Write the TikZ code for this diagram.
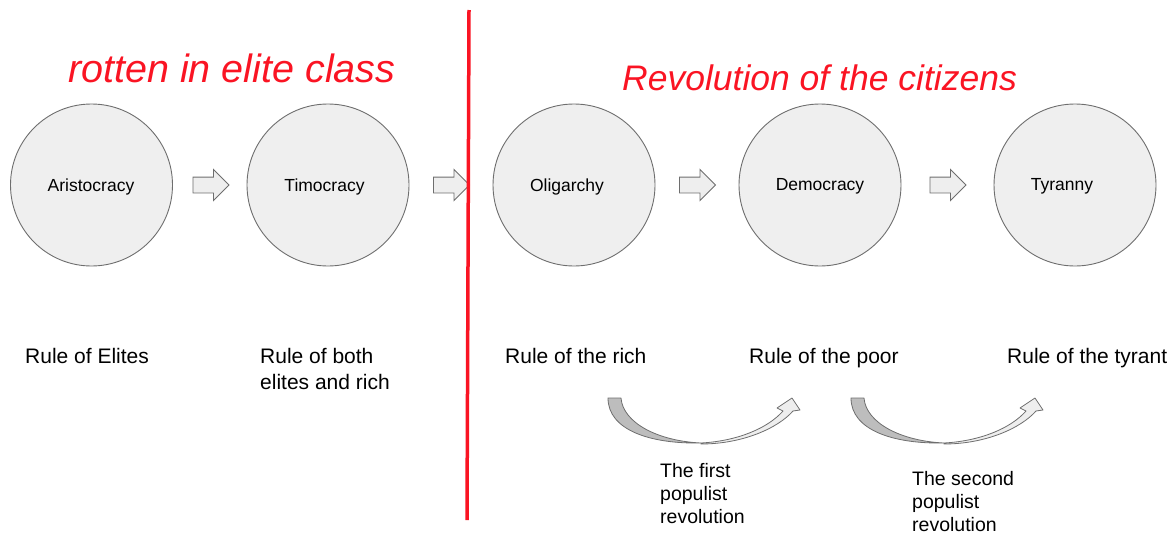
\documentclass[tikz,border=0pt]{standalone}
\usepackage{fontspec}
\setmainfont{Liberation Sans}
\usetikzlibrary{shapes.arrows}
\definecolor{circfill}{HTML}{EFEFEF}
\definecolor{circline}{HTML}{6E6E6E}
\definecolor{arrfill}{HTML}{EEEEEE}
\definecolor{darkband}{HTML}{BDBDBD}
\definecolor{headred}{RGB}{250,20,35}
\tikzset{
  state/.style={circle, draw=circline, fill=circfill, line width=0.9pt, minimum size=162pt, inner sep=0pt},
  statelabel/.style={font=\fontsize{17.5}{20}\selectfont, inner sep=0pt},
  blockarrow/.style={single arrow, draw=circline, fill=arrfill, line width=0.9pt, minimum height=36pt, inner sep=7.5pt, single arrow head extend=7.5pt, single arrow tip angle=90},
  rulelabel/.style={font=\fontsize{21}{26}\selectfont, inner sep=0pt, anchor=base west, align=left},
  revlabel/.style={font=\fontsize{19.5}{23}\selectfont, inner sep=0pt, anchor=base west, align=left},
  heading/.style={text=headred, inner sep=0pt, anchor=base west},
  revarrow/.pic={
    \draw[circline, fill=darkband, line width=0.8pt, line join=round]
      (0,0) -- (13,0) .. controls (15,25) and (50,43) .. (93,45)
      .. controls (42,46) and (0,32) .. (0,0) -- cycle;
    \draw[circline, fill=arrfill, line width=0.8pt, line join=round]
      (93,46) .. controls (135,46) and (170,30) .. (185,13)
      -- (192,12) -- (184,0) -- (169,10) -- (175,13)
      .. controls (160,30) and (130,43) .. (93,45) -- cycle;
  }
}
\begin{document}
\begin{tikzpicture}[x=1pt,y=-1pt]
\useasboundingbox (0,0) rectangle (1175,533);
% circles
\node[state] (aris) at (91.5,185) {};
\node[state] (timo) at (328,185) {};
\node[state] (olig) at (574,185) {};
\node[state] (demo) at (820,185) {};
\node[state] (tyra) at (1075,185) {};
\node[statelabel] at ([xshift=-0.5pt,yshift=-1.5pt]aris.center) {Aristocracy};
\node[statelabel] at ([xshift=-3.5pt,yshift=-1.5pt]timo.center) {Timocracy};
\node[statelabel] at ([xshift=-7pt,yshift=-1.5pt]olig.center) {Oligarchy};
\node[statelabel] at ([yshift=-1.5pt]demo.center) {Democracy};
\node[statelabel] at ([xshift=-13pt,yshift=-1.5pt]tyra.center) {Tyranny};
% block arrows
\node[blockarrow] (a1) at (207,185) {};
\node[blockarrow] (a2) at (447.5,185) {};
\node[blockarrow] (a3) at (693.5,185) {};
\node[blockarrow] (a4) at (944,185) {};
% red divider
\coordinate (divtop) at (469,10);
\coordinate (divbot) at (467,520);
\draw[headred, line width=3.5pt] (divtop) -- (divbot);
% headings
\node[heading, font=\fontsize{39.5}{42}\selectfont\itshape] (h1) at (68,82) {rotten in elite class};
\node[heading, font=\fontsize{35.5}{40}\selectfont\itshape] (h2) at (622,90) {Revolution of the citizens};
% rule labels
\node[rulelabel] (r1) at (25,363) {Rule of Elites};
\node[rulelabel] (r2) at (260,389) {Rule of both\\elites and rich};
\node[rulelabel] (r3) at (505,363) {Rule of the rich};
\node[rulelabel] (r4) at (749,363) {Rule of the poor};
\node[rulelabel] (r5) at (1007,363) {Rule of the tyrant};
% curved arrows
\pic at (608,398) {revarrow};
\pic at (851,398) {revarrow};
\node[revlabel] (l1) at (660,523) {The first\\populist\\revolution};
\node[revlabel] (l2) at (912,531) {The second\\populist\\revolution};
\end{tikzpicture}
\end{document}
